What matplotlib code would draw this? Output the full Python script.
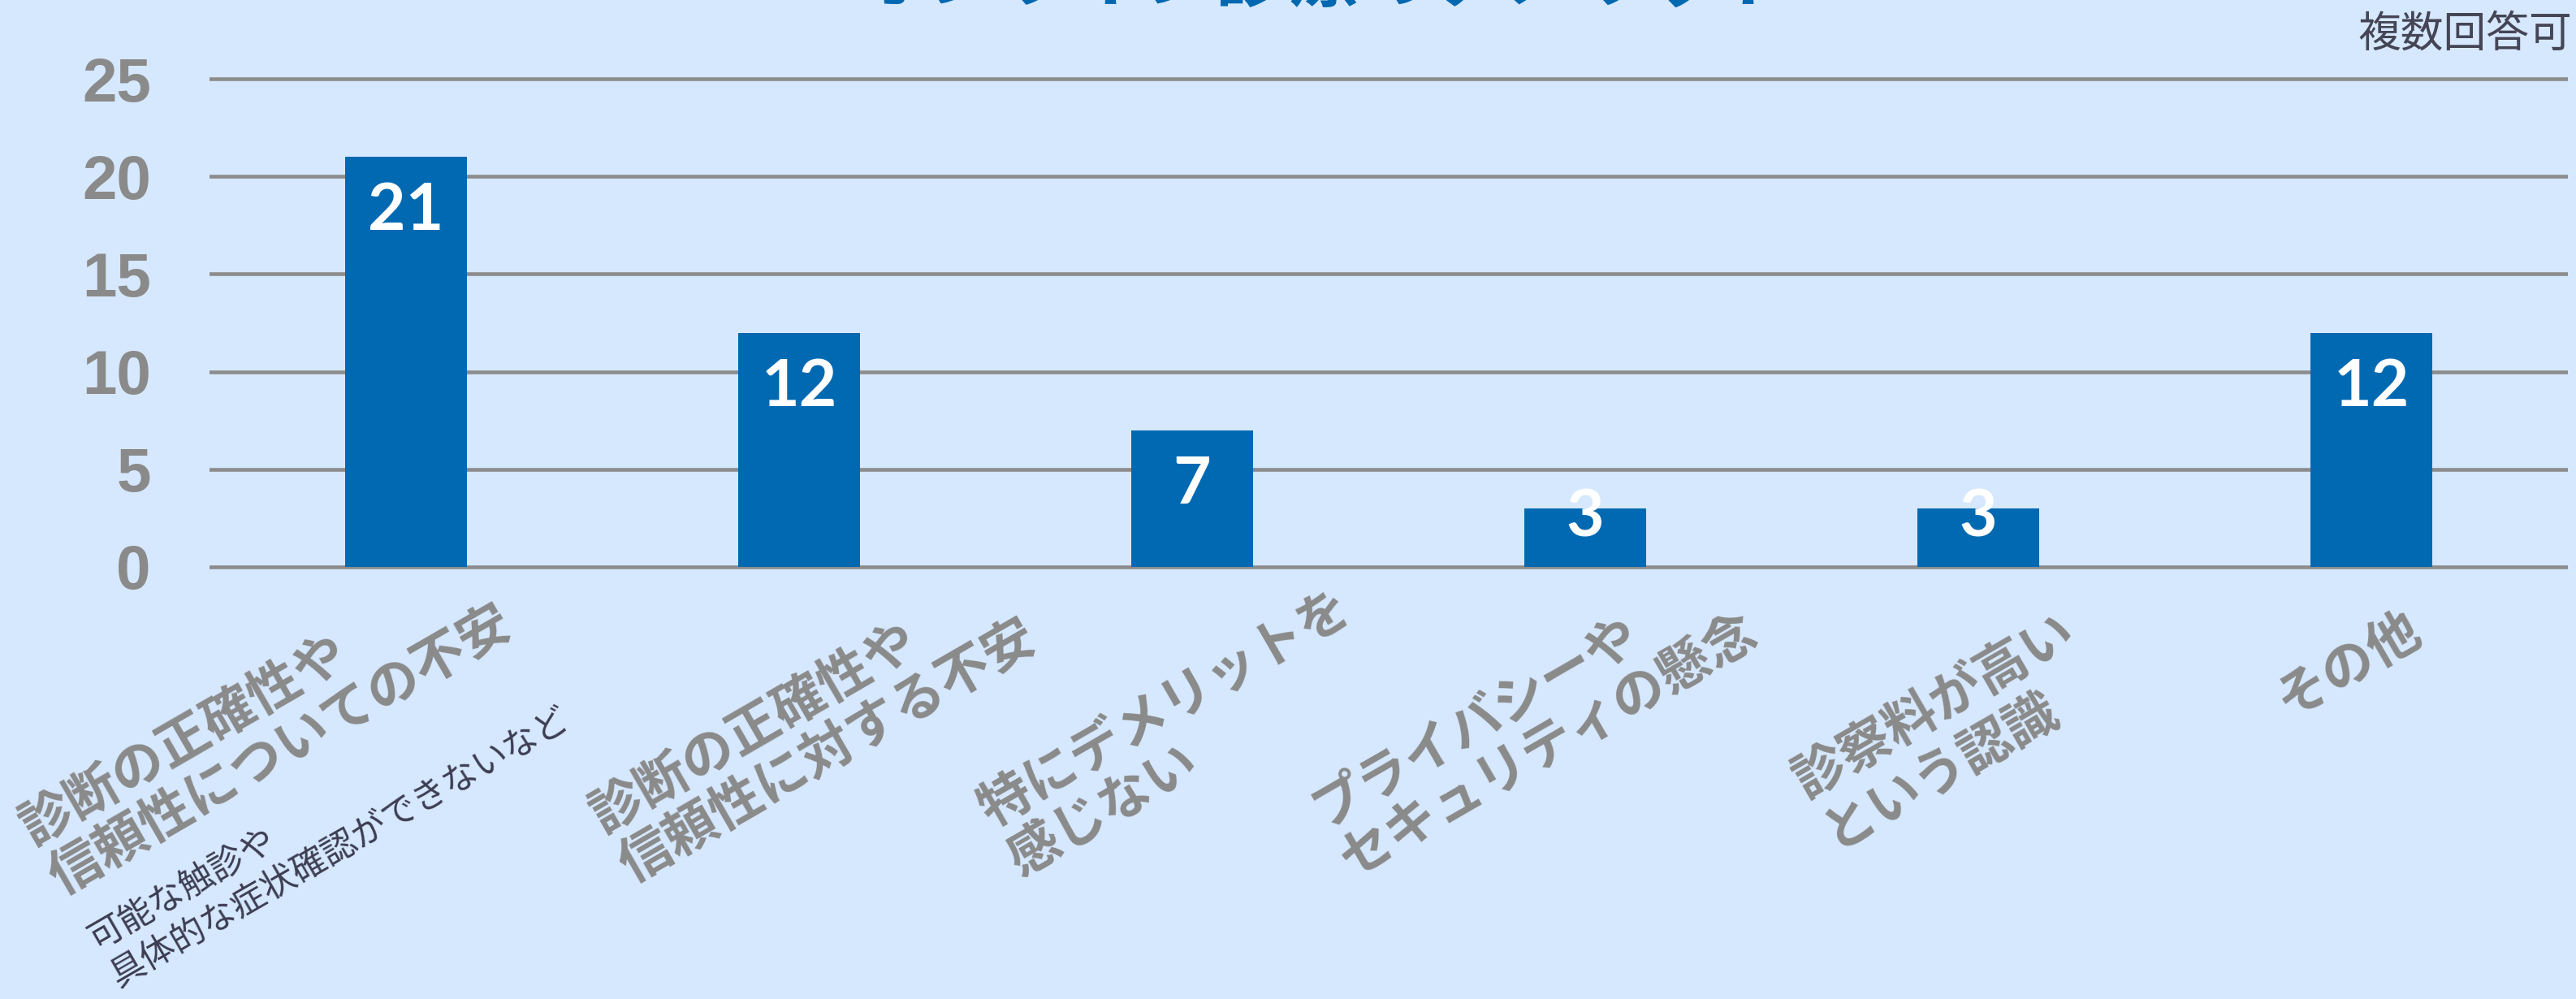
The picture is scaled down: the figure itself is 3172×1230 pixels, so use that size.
import numpy as np
import matplotlib
matplotlib.use("Agg")
import matplotlib.pyplot as plt

plt.rcParams['font.family'] = ['Noto Sans CJK JP', 'DejaVu Sans']

# ---- data ----
title = "オンライン診療のデメリット"
subnote = "複数回答可"
categories = [
    "診断の正確性や\n信頼性についての不安",
    "診断の正確性や\n信頼性に対する不安",
    "特にデメリットを\n感じない",
    "プライバシーや\nセキュリティの懸念",
    "診察料が高い\nという認識",
    "その他",
]
counts = [21, 12, 7, 3, 3, 12]
note_text = "可能な触診や\n具体的な症状確認ができないなど"
y_ticks = [0, 5, 10, 15, 20, 25]

# ---- layout (pixels) ----
W, H, DPI = 3172, 1230, 100
label_dx = [-486, -268, -273, -348, -239, -129]   # top-left of label vs tick
label_top = [997, 982, 974, 974, 939, 839]
note_dx, note_top = -398, 1140

bg = '#d6e8fe'
bar_color = '#0069b1'
grid_color = '#8c8c8c'
label_gray = '#8a8a8a'

fig = plt.figure(figsize=(W / DPI, H / DPI), dpi=DPI, facecolor=bg)
# axes from x=258..3162 px, y=-0.5 at 710 px, 25.5 at 85 px
ax = fig.add_axes([258 / W, 1 - 710 / H, (3162 - 258) / W, (710 - 85) / H])
ax.set_facecolor(bg)

x = np.arange(len(counts))
ax.bar(x, counts, width=0.31, color=bar_color, zorder=3)

ax.set_xlim(-0.5, len(counts) - 0.5)
ax.set_ylim(-0.5, 25.5)
ax.set_yticks(y_ticks)
ax.set_xticks([])
ax.yaxis.grid(True, color=grid_color, linewidth=3.3)
ax.set_axisbelow(True)
for s in ax.spines.values():
    s.set_visible(False)
ax.tick_params(axis='y', length=0, pad=52, labelsize=55, labelcolor=label_gray)
for t in ax.get_yticklabels():
    t.set_fontweight('bold')
    t.set_family(['Liberation Sans', 'DejaVu Sans'])

# value labels inside bars
for i, v in enumerate(counts):
    yv = v - 2.8 if v >= 5 else v - 0.5
    ax.text(i, yv, str(v), ha='center', va='center', color='white',
            fontsize=58, fontweight='bold', family=['Lato', 'DejaVu Sans'], zorder=4)

# rotated category labels
for i, lab in enumerate(categories):
    px = ax.transData.transform((i, 0))[0]
    fig.text((px + label_dx[i]) / W, 1 - label_top[i] / H, lab,
             rotation=30, rotation_mode='anchor', ha='left', va='top',
             multialignment='left', linespacing=1.1,
             fontsize=46.5, fontweight='bold', color=label_gray)

px0 = ax.transData.transform((0, 0))[0]
fig.text((px0 + note_dx) / W, 1 - note_top / H, note_text,
         rotation=30, rotation_mode='anchor', ha='left', va='top',
         multialignment='left', linespacing=1.3,
         fontsize=31, color='#3d3d52')

fig.text(3167 / W, 1 - 42 / H, subnote, ha='right', va='center',
         fontsize=38, color='#454555')

fig.text(1630 / W, 1 - 1 / H, title, ha='center', va='baseline',
         fontsize=64, fontweight='bold', color='#0068b0')

fig.savefig('out.png', dpi=DPI, facecolor=bg)
